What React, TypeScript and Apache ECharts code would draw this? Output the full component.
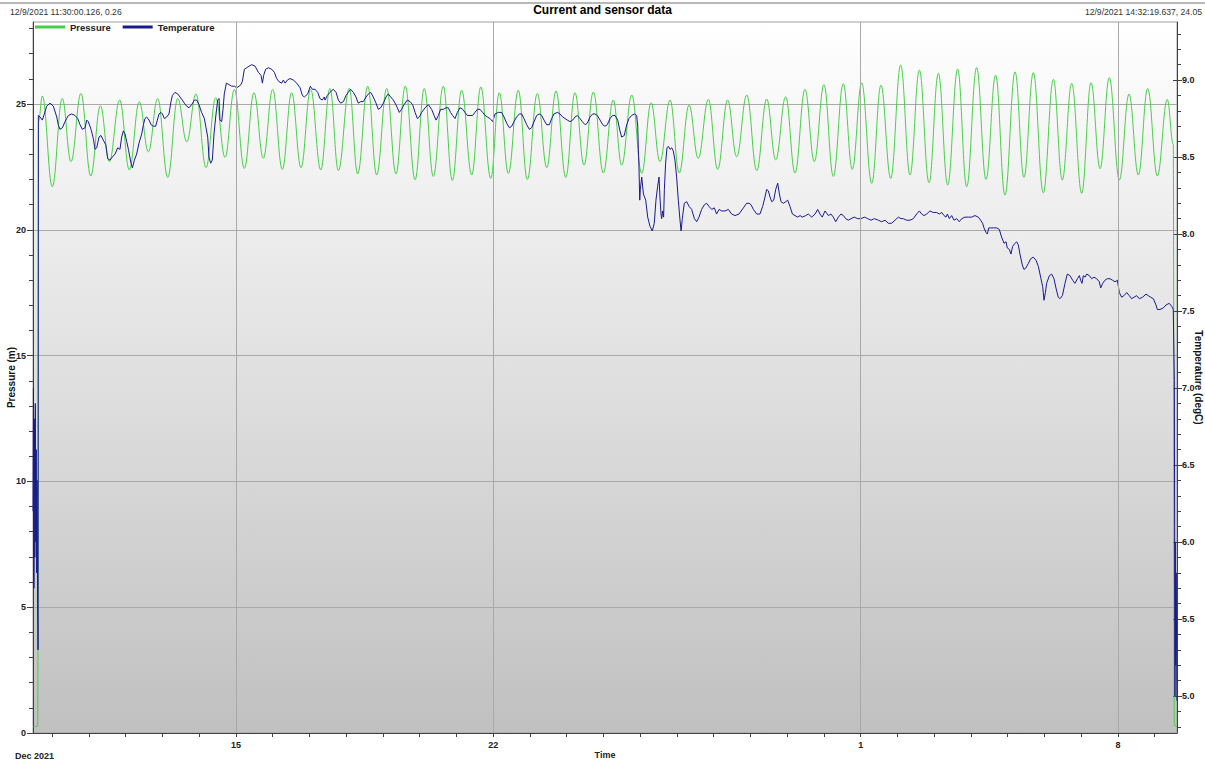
import React, { useEffect, useRef } from 'react';
import * as echarts from 'echarts';

const FONT = '"Liberation Sans", Arial, Helvetica, sans-serif';

const chartTitle = 'Current and sensor data';
const startText = '12/9/2021 11:30:00.126, 0.26';
const endText = '12/9/2021 14:32:19.637, 24.05';
const monthLabel = 'Dec 2021';
const seriesNames = ['Pressure', 'Temperature'];

// time values are hours since 2021-12-09 00:00
const timeMin = 11.5;
const timeMax = 758.54;

const dateLabelHours = [144, 312, 552, 720];
const dateLabelTexts = ['15', '22', '1', '8'];
const dayTickHours = [24, 48, 72, 96, 120, 144, 168, 192, 216, 240, 264, 288, 312, 336, 360, 384, 408, 432, 456, 480, 504, 528, 552, 576, 600, 624, 648, 672, 696, 720, 744];

const pressureMin = 0;
const pressureMax = 28.26;
const pressureTicks = [0, 5, 10, 15, 20, 25];
const pressureMinorTicks = [1, 2, 3, 4, 6, 7, 8, 9, 11, 12, 13, 14, 16, 17, 18, 19, 21, 22, 23, 24, 26, 27, 28];

const tempMin = 4.76;
const tempMax = 9.377;
const tempTicks = [5.0, 5.5, 6.0, 6.5, 7.0, 7.5, 8.0, 8.5, 9.0];
const tempMinorTicks = [4.8, 4.9, 5.1, 5.2, 5.3, 5.4, 5.6, 5.7, 5.8, 5.9, 6.1, 6.2, 6.3, 6.4, 6.6, 6.7, 6.8, 6.9, 7.1, 7.2, 7.3, 7.4, 7.6, 7.7, 7.8, 7.9, 8.1, 8.2, 8.3, 8.4, 8.6, 8.7, 8.8, 8.9, 9.1, 9.2, 9.3];

// Pressure (m): tidal highs and lows [hour, value]
const pressureData = [
  [11.5, 0.26], [14.6, 0.26], [14.8, 3.4], [15.1, 24.3],
  [17.6, 25.32], [24.1, 21.71], [30.6, 25.22], [36.3, 22.71], [42.8, 25.42], [49.2, 22.14], [55.5, 24.93], [61.3, 22.71],
  [68.1, 25.16], [74.4, 22.38], [80.9, 25.09], [86.8, 23.10], [92.9, 25.22], [99.5, 22.08], [106.0, 25.22], [111.9, 23.50],
  [117.9, 25.40], [124.5, 22.47], [130.8, 25.25], [136.9, 22.88], [143.0, 25.58], [149.5, 22.44], [155.8, 25.45], [161.9, 22.84],
  [168.0, 25.58], [174.3, 22.40], [180.4, 25.45], [186.5, 22.47], [192.8, 25.58], [199.4, 22.38], [205.4, 25.62], [210.9, 22.35],
  [218.0, 25.62], [223.5, 22.22], [230.1, 25.71], [235.9, 22.18], [242.5, 25.62], [248.5, 22.22], [254.6, 25.71], [261.0, 21.99],
  [267.0, 25.62], [272.9, 22.12], [279.4, 25.71], [285.3, 21.96], [291.4, 25.55], [298.0, 22.18], [303.9, 25.68], [310.4, 22.04],
  [316.0, 25.45], [321.9, 22.24], [328.4, 25.55], [334.3, 22.00], [340.8, 25.42], [347.0, 22.47], [353.0, 25.52], [359.4, 22.08],
  [365.4, 25.45], [371.3, 22.57], [377.4, 25.48], [383.9, 22.26], [390.4, 25.16], [395.9, 22.57], [402.5, 25.36], [409.0, 22.24],
  [415.1, 25.05], [420.9, 22.71], [427.5, 25.16], [433.5, 22.26], [439.9, 24.96], [445.9, 22.84], [452.5, 25.18], [458.6, 22.40],
  [465.1, 25.16], [471.0, 22.90], [477.6, 25.36], [484.1, 22.35], [490.6, 25.20], [496.5, 22.78], [503.0, 25.29], [509.1, 22.26],
  [515.6, 25.58], [521.7, 22.71], [528.0, 25.77], [534.1, 22.12], [540.6, 25.81], [546.5, 22.40], [552.6, 25.84], [559.2, 21.84],
  [565.2, 25.75], [571.6, 22.04], [578.1, 26.55], [584.2, 22.18], [590.3, 26.35], [596.6, 21.87], [602.7, 26.22], [608.8, 21.78],
  [615.3, 26.39], [621.2, 21.71], [627.7, 26.45], [633.8, 22.00], [640.1, 26.15], [646.2, 21.38], [652.8, 26.28], [658.6, 22.08],
  [664.7, 26.25], [671.2, 21.47], [677.8, 25.98], [683.6, 21.98], [689.8, 25.82], [696.3, 21.45], [702.4, 25.85], [708.3, 22.43],
  [714.3, 26.05], [720.9, 21.98], [727.2, 25.40], [733.3, 22.18], [739.4, 25.62], [745.7, 22.14], [752.2, 25.18], [756.1, 23.4],
  [756.8, 0.3], [758.5, 0.26],
];

// Temperature (degC) [hour, value]
const tempStart = [
  [11.5, 6.2], [11.8, 7.0], [12.1, 5.7], [12.4, 6.8], [12.7, 5.9], [13.0, 6.9], [13.3, 6.0], [13.6, 6.6], [13.9, 5.8],
  [14.2, 6.4], [14.5, 5.6], [14.8, 5.3], [15.0, 8.77],
];
const tempDec9to17 = [
  [16.1, 8.76], [17.6, 8.74], [18.9, 8.78], [20.4, 8.83], [22.6, 8.85], [24.8, 8.83], [27.0, 8.76], [28.0, 8.71], [29.1, 8.68],
  [30.7, 8.69], [32.4, 8.73], [34.6, 8.77], [36.8, 8.78], [38.9, 8.77], [40.7, 8.75], [42.2, 8.71], [43.7, 8.68], [45.5, 8.69],
  [46.6, 8.74], [47.6, 8.73], [49.4, 8.68], [50.9, 8.62], [52.0, 8.55], [53.1, 8.56], [54.6, 8.63], [55.9, 8.64], [57.4, 8.61],
  [59.0, 8.58], [60.3, 8.49], [61.8, 8.48], [63.3, 8.50], [65.1, 8.52], [66.8, 8.56], [68.3, 8.55], [69.4, 8.63], [70.5, 8.67],
  [71.6, 8.65], [72.7, 8.60], [73.8, 8.55], [75.5, 8.46], [76.4, 8.43], [77.7, 8.48], [79.2, 8.52], [80.7, 8.59], [82.5, 8.65],
  [83.6, 8.71], [84.6, 8.75], [85.7, 8.76], [87.3, 8.74], [88.6, 8.71], [90.1, 8.70], [91.6, 8.70], [92.7, 8.74], [93.8, 8.78],
  [95.1, 8.79], [96.0, 8.78], [97.3, 8.75], [98.8, 8.76], [100.3, 8.78], [101.6, 8.86], [102.5, 8.90], [104.2, 8.92], [106.0, 8.91],
  [107.5, 8.89], [109.0, 8.87], [110.3, 8.85], [111.9, 8.83], [113.4, 8.82], [115.1, 8.84], [116.9, 8.87], [118.4, 8.87],
  [119.9, 8.84], [121.6, 8.79], [123.4, 8.75], [124.5, 8.69], [125.6, 8.63], [126.4, 8.50], [127.5, 8.46], [128.6, 8.48],
  [129.7, 8.65], [130.8, 8.76], [132.1, 8.87], [133.0, 8.88], [133.6, 8.74], [134.7, 8.73], [135.6, 8.81], [136.4, 8.91],
  [137.8, 8.98], [139.5, 8.97], [141.2, 8.96], [143.0, 8.96], [144.5, 8.95], [146.0, 8.96], [147.3, 8.97], [148.2, 8.99],
  [149.5, 9.07], [151.0, 9.08], [152.6, 9.09], [154.3, 9.10], [156.5, 9.09], [158.7, 9.05], [160.4, 9.03], [161.3, 8.98],
  [162.1, 9.03], [163.4, 9.07], [165.2, 9.08], [167.4, 9.07], [169.1, 9.05], [170.6, 9.01], [172.1, 8.99], [173.9, 8.98],
  [175.0, 9.00], [176.1, 8.98], [177.6, 9.00], [179.3, 9.01], [181.5, 9.00], [183.7, 8.98], [185.9, 8.95], [187.4, 8.90],
  [188.7, 8.89], [190.9, 8.91], [192.6, 8.96], [193.9, 8.94], [195.7, 8.94], [197.4, 8.92], [198.9, 8.88], [200.4, 8.87], [201.7, 8.89],
];
const tempDec17to25 = [
  [202.2, 8.87], [203.7, 8.90], [205.4, 8.92], [207.6, 8.94], [209.4, 8.92], [210.9, 8.87], [212.4, 8.85], [214.2, 8.86],
  [215.9, 8.90], [217.4, 8.92], [218.9, 8.94], [220.7, 8.92], [222.4, 8.89], [223.9, 8.85], [225.5, 8.86], [227.2, 8.86],
  [229.0, 8.89], [230.5, 8.91], [232.0, 8.92], [233.7, 8.89], [235.5, 8.85], [237.0, 8.81], [238.5, 8.82], [240.3, 8.85],
  [242.0, 8.89], [243.5, 8.91], [245.1, 8.89], [246.8, 8.87], [248.5, 8.84], [250.7, 8.79], [252.2, 8.81], [253.8, 8.84],
  [255.9, 8.87], [257.7, 8.86], [259.4, 8.84], [261.0, 8.79], [262.5, 8.75], [263.8, 8.76], [265.3, 8.79], [267.5, 8.82],
  [269.7, 8.84], [271.8, 8.81], [273.4, 8.77], [274.7, 8.74], [276.2, 8.77], [277.7, 8.81], [279.5, 8.81], [281.2, 8.82],
  [282.7, 8.82], [284.2, 8.79], [285.5, 8.77], [287.1, 8.75], [288.6, 8.79], [290.3, 8.82], [292.1, 8.81], [293.6, 8.79],
  [295.1, 8.77], [296.9, 8.77], [298.6, 8.77], [300.1, 8.79], [301.7, 8.81], [303.4, 8.81], [305.1, 8.79], [306.7, 8.77],
  [308.2, 8.76], [309.9, 8.75], [311.7, 8.73], [313.2, 8.78], [315.4, 8.79], [317.5, 8.79], [319.1, 8.76], [320.8, 8.72],
  [322.6, 8.69], [324.1, 8.70], [325.6, 8.73], [327.3, 8.76], [329.1, 8.78], [330.6, 8.78], [332.1, 8.75], [333.9, 8.71],
  [335.6, 8.68], [337.1, 8.69], [338.7, 8.73], [340.4, 8.77], [342.1, 8.78], [343.7, 8.77], [345.2, 8.74], [346.9, 8.71],
  [348.7, 8.71], [350.2, 8.75], [351.7, 8.78], [353.9, 8.79], [355.6, 8.78], [357.4, 8.76], [358.9, 8.75], [360.4, 8.74],
  [362.2, 8.73], [363.9, 8.74], [365.4, 8.76], [367.0, 8.77], [368.7, 8.75], [370.2, 8.73], [372.0, 8.71], [373.5, 8.72],
  [375.2, 8.76], [377.0, 8.78], [378.5, 8.78], [380.0, 8.77], [381.8, 8.74], [383.5, 8.71], [385.0, 8.70], [386.5, 8.71],
  [388.3, 8.75], [390.0, 8.77], [391.6, 8.77],
];
const tempDec25toJan2 = [
  [393.3, 8.74], [394.8, 8.67], [395.9, 8.63], [397.6, 8.64], [399.2, 8.71], [400.7, 8.75], [402.4, 8.77], [404.2, 8.78],
  [405.7, 8.77], [406.4, 8.70], [406.8, 8.55], [407.2, 8.44], [407.7, 8.22], [408.1, 8.29], [409.0, 8.37], [410.1, 8.26],
  [411.6, 8.22], [412.9, 8.11], [414.4, 8.05], [415.9, 8.02], [417.2, 8.07], [418.3, 8.22], [419.4, 8.31], [420.3, 8.37],
  [420.9, 8.24], [421.6, 8.13], [422.0, 8.10], [422.7, 8.15], [423.3, 8.11], [423.8, 8.29], [424.6, 8.46], [425.5, 8.56],
  [426.4, 8.57], [427.5, 8.55], [428.6, 8.56], [429.6, 8.54], [430.7, 8.48], [431.8, 8.37], [432.9, 8.22], [434.0, 8.09],
  [434.7, 8.02], [435.5, 8.10], [436.8, 8.20], [438.4, 8.21], [439.9, 8.18], [441.6, 8.16], [443.4, 8.10], [444.9, 8.08],
  [446.4, 8.11], [448.1, 8.16], [449.9, 8.19], [451.4, 8.20], [452.9, 8.18], [454.7, 8.16], [456.4, 8.17], [457.9, 8.13],
  [459.5, 8.16], [461.2, 8.15], [463.4, 8.15], [465.6, 8.16], [467.7, 8.13], [469.9, 8.12], [472.5, 8.13], [475.4, 8.17],
  [477.5, 8.20], [479.1, 8.20], [480.4, 8.19], [481.9, 8.16], [484.1, 8.13], [486.2, 8.13], [488.0, 8.18], [489.5, 8.24],
  [490.6, 8.29], [491.7, 8.28], [492.8, 8.24], [493.9, 8.21], [495.2, 8.22], [496.5, 8.29], [497.8, 8.33], [498.9, 8.26],
  [500.0, 8.21], [501.5, 8.20], [503.0, 8.21], [504.3, 8.22], [505.8, 8.18], [507.4, 8.13], [509.1, 8.12], [510.8, 8.11],
  [512.4, 8.12], [513.9, 8.11], [516.1, 8.12], [517.8, 8.13], [520.0, 8.11], [522.2, 8.13], [523.9, 8.16], [525.4, 8.13],
  [526.9, 8.11], [528.7, 8.15], [530.9, 8.12], [532.6, 8.13], [534.1, 8.11], [535.7, 8.08], [537.4, 8.11], [539.1, 8.13],
  [540.7, 8.12], [542.2, 8.10], [543.9, 8.09], [545.7, 8.10], [547.8, 8.11], [550.0, 8.10], [552.2, 8.10], [554.4, 8.11],
  [556.6, 8.10], [558.7, 8.09], [560.9, 8.10], [563.5, 8.09], [565.7, 8.08], [567.9, 8.09], [570.0, 8.07], [572.2, 8.07],
  [574.4, 8.09], [576.6, 8.11], [578.3, 8.10],
];
const tempJan2to9 = [
  [579.8, 8.10], [582.0, 8.09], [584.2, 8.09], [586.4, 8.10], [588.5, 8.13], [590.3, 8.15], [591.8, 8.13], [593.3, 8.12],
  [595.1, 8.13], [597.2, 8.15], [599.4, 8.14], [601.6, 8.14], [603.3, 8.13], [604.9, 8.14], [606.4, 8.12], [607.7, 8.11],
  [608.6, 8.13], [609.9, 8.10], [611.4, 8.12], [612.9, 8.09], [614.7, 8.10], [616.4, 8.08], [617.9, 8.10], [620.1, 8.11],
  [622.3, 8.11], [624.5, 8.11], [626.6, 8.12], [628.8, 8.11], [630.3, 8.09], [631.6, 8.07], [632.5, 8.04], [633.8, 8.01],
  [634.7, 8.00], [635.6, 8.04], [636.9, 8.04], [638.6, 8.04], [640.8, 8.04], [642.5, 8.03], [644.0, 7.98], [645.6, 7.94],
  [646.9, 7.95], [647.7, 7.91], [649.1, 7.90], [650.1, 7.87], [651.2, 7.92], [652.8, 7.94], [653.8, 7.95], [654.9, 7.93],
  [656.0, 7.87], [657.5, 7.80], [658.6, 7.77], [659.9, 7.78], [661.5, 7.81], [663.0, 7.84], [664.7, 7.85], [666.5, 7.83],
  [668.0, 7.79], [669.5, 7.72], [670.8, 7.66], [671.7, 7.57], [672.6, 7.62], [673.4, 7.68], [675.2, 7.73], [676.7, 7.74],
  [678.2, 7.71], [679.5, 7.65], [681.0, 7.59], [682.1, 7.58], [683.7, 7.60], [685.4, 7.68], [686.9, 7.74], [688.7, 7.73],
  [690.4, 7.70], [691.9, 7.68], [693.5, 7.71], [694.8, 7.73], [695.6, 7.70], [696.5, 7.68], [697.4, 7.73], [698.5, 7.72],
  [699.6, 7.74], [701.3, 7.73], [702.8, 7.71], [704.3, 7.72], [706.1, 7.71], [707.8, 7.69], [708.7, 7.65], [710.0, 7.68],
  [711.5, 7.70], [713.0, 7.71], [714.8, 7.71], [716.5, 7.70], [718.1, 7.69], [719.6, 7.70], [720.9, 7.62], [722.4, 7.59],
  [723.9, 7.60], [725.7, 7.62], [727.4, 7.60], [728.9, 7.58], [730.5, 7.59], [732.2, 7.60], [733.9, 7.58], [736.1, 7.59],
  [738.3, 7.61], [739.8, 7.60], [741.3, 7.59], [743.1, 7.58], [744.8, 7.54], [745.7, 7.51], [747.4, 7.51], [749.6, 7.52],
  [751.4, 7.54], [753.5, 7.55], [755.1, 7.53], [756.1, 7.51],
];
const tempEnd = [
  [756.8, 7.05], [757.0, 6.1], [757.2, 5.0], [757.4, 6.0], [757.7, 5.2], [758.0, 5.8], [758.5, 4.97],
];

const pressureColor = '#48cf48';
const temperatureColor = '#1a1a8e';
const axisColor = '#404040';
const gridColor = '#a9a9a9';

function buildOption() {
  const temperatureData = [
    ...tempStart, ...tempDec9to17, ...tempDec17to25, ...tempDec25toJan2, ...tempJan2to9, ...tempEnd,
  ];
  const labelStyle = { fontSize: 9, fontWeight: 'bold', color: '#222', fontFamily: FONT };
  return {
    animation: false,
    backgroundColor: '#ffffff',
    textStyle: { fontFamily: FONT },
    title: {
      text: chartTitle,
      left: 'center',
      top: 4,
      padding: 0,
      textStyle: { fontSize: 12, fontWeight: 'bold', color: '#000', fontFamily: FONT },
    },
    legend: {
      data: seriesNames,
      left: 35,
      top: 22,
      padding: 0,
      itemWidth: 30,
      itemHeight: 3,
      itemGap: 12,
      icon: 'rect',
      selectedMode: false,
      textStyle: { fontSize: 9.5, fontWeight: 'bold', color: '#222', fontFamily: FONT },
    },
    grid: {
      left: 33,
      right: 28,
      top: 22,
      bottom: 30,
      show: true,
      outerBoundsMode: 'none',
      containLabel: false,
      borderColor: '#a0a0a0',
      borderWidth: 1,
      backgroundColor: new echarts.graphic.LinearGradient(0, 0, 0, 1, [
        { offset: 0, color: '#ffffff' },
        { offset: 1, color: '#c0c0c0' },
      ]),
    },
    xAxis: [
      {
        type: 'value',
        min: timeMin,
        max: timeMax,
        name: 'Time',
        nameLocation: 'middle',
        nameGap: 17,
        nameMoveOverlap: false,
        nameTextStyle: { fontSize: 9, fontWeight: 'bold', color: '#222', fontFamily: FONT },
        axisLine: { show: true, lineStyle: { color: axisColor, width: 1 } },
        axisTick: { show: true, customValues: dayTickHours, length: 4, lineStyle: { color: axisColor } },
        axisLabel: {
          show: true,
          customValues: dateLabelHours,
          margin: 7,
          ...labelStyle,
          formatter: (v: number) => {
            const i = dateLabelHours.indexOf(v);
            return i >= 0 ? dateLabelTexts[i] : '';
          },
        },
        splitLine: { show: false },
      },
    ],
    yAxis: [
      {
        type: 'value',
        position: 'left',
        min: pressureMin,
        max: pressureMax,
        interval: 5,
        name: 'Pressure (m)',
        nameLocation: 'middle',
        nameRotate: 90,
        nameGap: 17,
        nameMoveOverlap: false,
        nameTextStyle: { fontSize: 10, fontWeight: 'bold', color: '#111', fontFamily: FONT },
        axisLine: { show: true, lineStyle: { color: axisColor, width: 1 } },
        axisTick: { show: true, customValues: pressureTicks, length: 6, lineStyle: { color: axisColor } },
        axisLabel: { show: true, customValues: pressureTicks, margin: 7, ...labelStyle },
        splitLine: { show: true, lineStyle: { color: gridColor, width: 1 } },
      },
      {
        type: 'value',
        position: 'right',
        min: tempMin,
        max: tempMax,
        name: 'Temperature (degC)',
        nameLocation: 'middle',
        nameRotate: -90,
        nameGap: 16,
        nameMoveOverlap: false,
        nameTextStyle: { fontSize: 10, fontWeight: 'bold', color: '#111', fontFamily: FONT },
        axisLine: { show: true, lineStyle: { color: axisColor, width: 1 } },
        axisTick: { show: true, customValues: tempTicks, length: 5, lineStyle: { color: axisColor } },
        axisLabel: {
          show: true,
          customValues: tempTicks,
          margin: 5,
          ...labelStyle,
          formatter: (v: number) => v.toFixed(1),
        },
        splitLine: { show: false },
      },
      {
        type: 'value',
        position: 'left',
        min: pressureMin,
        max: pressureMax,
        axisLine: { show: false },
        axisTick: { show: true, customValues: pressureMinorTicks, length: 4, lineStyle: { color: axisColor } },
        axisLabel: { show: false },
        splitLine: { show: false },
      },
      {
        type: 'value',
        position: 'right',
        min: tempMin,
        max: tempMax,
        axisLine: { show: false },
        axisTick: { show: true, inside: true, customValues: tempTicks, length: 4, lineStyle: { color: axisColor } },
        axisLabel: { show: false },
        splitLine: { show: false },
      },
      {
        type: 'value',
        position: 'right',
        min: tempMin,
        max: tempMax,
        axisLine: { show: false },
        axisTick: { show: true, customValues: tempMinorTicks, length: 4, lineStyle: { color: axisColor } },
        axisLabel: { show: false },
        splitLine: { show: false },
      },
    ],
    series: [
      {
        name: 'gridlines',
        type: 'line',
        data: [],
        z: 1,
        silent: true,
        xAxisIndex: 0,
        yAxisIndex: 0,
        markLine: {
          silent: true,
          symbol: ['none', 'none'],
          label: { show: false },
          lineStyle: { color: gridColor, width: 1, type: 'solid' },
          emphasis: { disabled: true },
          data: dateLabelHours.map((h) => ({ xAxis: h })),
        },
      },
      {
        name: seriesNames[0],
        type: 'line',
        xAxisIndex: 0,
        yAxisIndex: 0,
        data: pressureData,
        color: pressureColor,
        smooth: 0.4,
        smoothMonotone: 'x',
        showSymbol: false,
        symbol: 'none',
        lineStyle: { color: pressureColor, width: 1 },
        z: 2,
      },
      {
        name: seriesNames[1],
        type: 'line',
        xAxisIndex: 0,
        yAxisIndex: 1,
        data: temperatureData,
        color: temperatureColor,
        showSymbol: false,
        symbol: 'none',
        lineStyle: { color: temperatureColor, width: 1 },
        z: 3,
      },
    ],
    graphic: [
      {
        type: 'line',
        shape: { x1: 0, y1: 3, x2: 1205, y2: 3 },
        style: { stroke: '#a0a0a0', lineWidth: 1.5 },
        silent: true,
      },
      {
        type: 'text',
        left: 10,
        top: 7,
        silent: true,
        style: { text: startText, fontSize: 8.6, fill: '#333', fontFamily: FONT },
      },
      {
        type: 'text',
        right: 3,
        top: 7,
        silent: true,
        style: { text: endText, fontSize: 8.6, fill: '#333', fontFamily: FONT },
      },
      {
        type: 'text',
        left: 15,
        top: 751,
        silent: true,
        style: { text: monthLabel, fontSize: 9, fontWeight: 'bold', fill: '#222', fontFamily: FONT },
      },
    ],
  };
}

export default function App() {
  const ref = useRef<HTMLDivElement>(null);
  useEffect(() => {
    document.body.style.margin = '0';
    const chart = echarts.init(ref.current as HTMLDivElement, undefined, { renderer: 'svg' });
    chart.setOption(buildOption() as any);
    return () => {
      chart.dispose();
    };
  }, []);
  return <div ref={ref} style={{ position: 'absolute', left: 0, top: 0, width: 1205, height: 763 }} />;
}
